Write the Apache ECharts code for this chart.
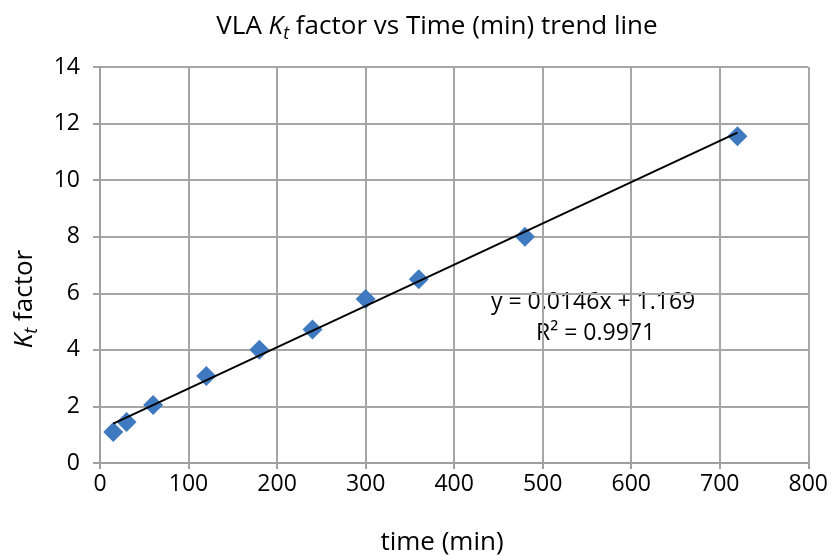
<!DOCTYPE html>
<html><head><meta charset="utf-8">
<script src="https://cdn.jsdelivr.net/npm/echarts@6/dist/echarts.min.js"></script>
<style>html,body{margin:0;padding:0;background:#fff}#c{width:831px;height:556px}</style>
</head><body><div id="c"></div>
<script>
const timeMin = [15, 30, 60, 120, 180, 240, 300, 360, 480, 720];
const ktFactor = [1.1, 1.45, 2.05, 3.08, 4.0, 4.72, 5.8, 6.5, 8.0, 11.55];
const trendX = [15, 720];
const trendY = [1.39, 11.68];
const equationText = 'y = 0.0146x + 1.169';
const r2Text = 'R² = 0.9971';

const FONT = 'Open Sans';
const richKt = {
  n: {fontFamily: FONT, fontSize: 26, color: '#000'},
  i: {fontFamily: FONT, fontSize: 26, fontStyle: 'italic', color: '#000'},
  s: {fontFamily: FONT, fontSize: 18, fontStyle: 'italic', color: '#000', padding: [14, 0, 0, 0]}
};
const chart = echarts.init(document.getElementById('c'), null, {renderer: 'canvas'});
chart.setOption({
  animation: false,
  textStyle: {fontFamily: FONT},
  grid: {left: 100, right: 18, top: 67, bottom: 93, containLabel: false},
  xAxis: {
    type: 'value', min: 0, max: 800, interval: 100,
    axisLine: {show: true, lineStyle: {color: '#a0a0a0', width: 2}},
    axisTick: {show: true, length: 6, lineStyle: {color: '#a0a0a0', width: 2}},
    axisLabel: {fontFamily: FONT, fontSize: 23, color: '#000', margin: 10},
    splitLine: {show: true, lineStyle: {color: '#a6a6a6', width: 2}}
  },
  yAxis: {
    type: 'value', min: 0, max: 14, interval: 2,
    axisLine: {show: true, lineStyle: {color: '#a0a0a0', width: 2}},
    axisTick: {show: true, length: 7, lineStyle: {color: '#a0a0a0', width: 2}},
    axisLabel: {fontFamily: FONT, fontSize: 23, color: '#000', margin: 20},
    splitLine: {show: true, lineStyle: {color: '#a6a6a6', width: 2}}
  },
  graphic: [
    {type: 'text', x: 437, y: 27, style: {
      text: '{n|VLA }{i|K}{s|t}{n| factor vs Time (min) trend line}',
      rich: richKt, align: 'center', verticalAlign: 'middle'}},
    {type: 'text', x: 442, y: 543, style: {
      text: 'time (min)', font: '26px "Open Sans"', fill: '#000',
      align: 'center', verticalAlign: 'middle'}},
    {type: 'text', x: 25, y: 299, rotation: Math.PI / 2, style: {
      text: '{i|K}{s|t}{n| factor}', rich: richKt,
      align: 'center', verticalAlign: 'middle'}},
    {type: 'text', x: 491, y: 302, style: {text: equationText, font: '23px "Open Sans"', fill: '#000', verticalAlign: 'middle'}},
    {type: 'text', x: 536, y: 333, style: {text: r2Text, font: '23px "Open Sans"', fill: '#000', verticalAlign: 'middle'}}
  ],
  series: [
    {
      type: 'scatter', symbol: 'diamond', symbolSize: 20,
      itemStyle: {color: '#3f79bf', opacity: 1},
      data: timeMin.map((x, i) => [x, ktFactor[i]]),
      z: 3
    },
    {
      type: 'line', symbol: 'none', silent: true,
      lineStyle: {color: '#000', width: 2},
      data: trendX.map((x, i) => [x, trendY[i]]),
      z: 4
    }
  ]
});
</script></body></html>
